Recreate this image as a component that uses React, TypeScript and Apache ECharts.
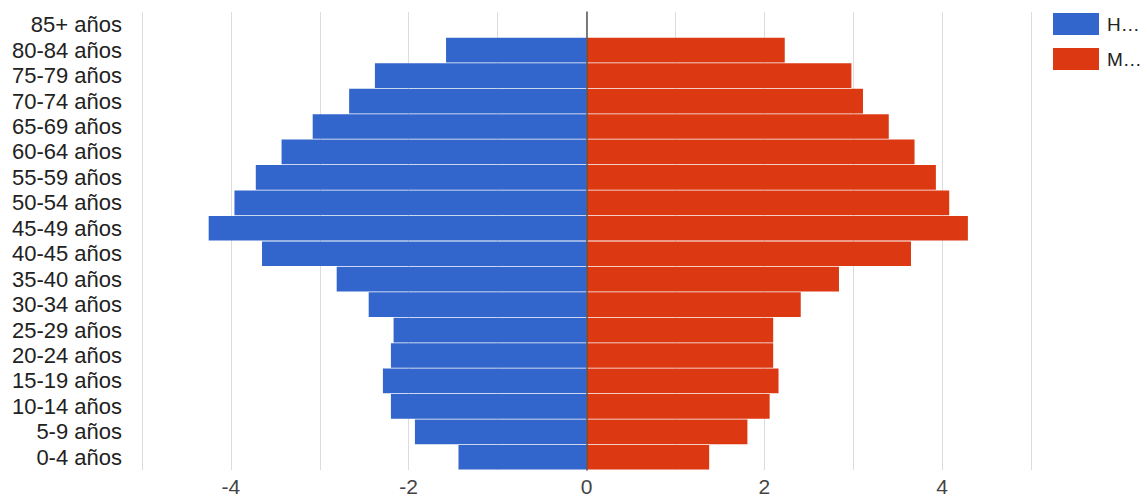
import React, { useEffect, useRef } from "react";
import * as echarts from "echarts";

const categories = [
  "0-4 años", "5-9 años", "10-14 años", "15-19 años", "20-24 años", "25-29 años",
  "30-34 años", "35-40 años", "40-45 años", "45-49 años", "50-54 años", "55-59 años",
  "60-64 años", "65-69 años", "70-74 años", "75-79 años", "80-84 años", "85+ años",
];
const hombres = [
  -1.44, -1.93, -2.2, -2.29, -2.2, -2.17, -2.45, -2.81, -3.65, -4.25, -3.96, -3.72,
  -3.43, -3.08, -2.67, -2.38, -1.58, 0,
];
const mujeres = [
  1.38, 1.81, 2.06, 2.16, 2.1, 2.1, 2.41, 2.84, 3.65, 4.29, 4.08, 3.93,
  3.69, 3.4, 3.11, 2.98, 2.23, 0,
];
const seriesNames = ["Hombres", "Mujeres"];

export default function App() {
  const ref = useRef<HTMLDivElement>(null);
  useEffect(() => {
    if (!ref.current) return;
    const chart = echarts.init(ref.current, null, { renderer: "svg" });
    const font = "Arial, 'Liberation Sans', sans-serif";
    chart.setOption({
      animation: false,
      textStyle: { fontFamily: font },
      grid: { left: 142, right: 116, top: 12, bottom: 15, containLabel: false },
      legend: {
        orient: "vertical",
        left: 1053,
        top: 13,
        padding: 0,
        itemWidth: 46,
        itemHeight: 22,
        itemGap: 13,
        icon: "rect",
        data: seriesNames,
        formatter: (name: string) => name.charAt(0) + "…",
        textStyle: { fontSize: 19, color: "#222", fontFamily: font, padding: [0, 0, 0, 3] },
      },
      xAxis: {
        type: "value",
        min: -5,
        max: 5,
        interval: 1,
        axisLine: { show: false },
        axisTick: { show: false },
        splitLine: { show: true, lineStyle: { color: "#dcdcdc", width: 1 } },
        axisLabel: {
          margin: 6,
          fontSize: 21,
          color: "#444",
          fontFamily: font,
          formatter: (v: number) => (v % 2 === 0 ? String(v) : ""),
        },
      },
      yAxis: {
        type: "category",
        data: categories,
        z: 5,
        axisLine: { show: true, onZero: true, lineStyle: { color: "#555", width: 1.5 } },
        axisTick: { show: false },
        splitLine: { show: false },
        axisLabel: { interval: 0, margin: 20, fontSize: 22, color: "#222", fontFamily: font },
      },
      series: [
        {
          name: seriesNames[0],
          type: "bar",
          stack: "total",
          data: hombres,
          barCategoryGap: "3%",
          itemStyle: { color: "#3366cc" },
        },
        {
          name: seriesNames[1],
          type: "bar",
          stack: "total",
          data: mujeres,
          barCategoryGap: "3%",
          itemStyle: { color: "#dc3912" },
        },
      ],
    });
    return () => chart.dispose();
  }, []);
  return (
    <div
      ref={ref}
      style={{ position: "fixed", left: 0, top: 0, width: 1147, height: 497, background: "#fff" }}
    />
  );
}
